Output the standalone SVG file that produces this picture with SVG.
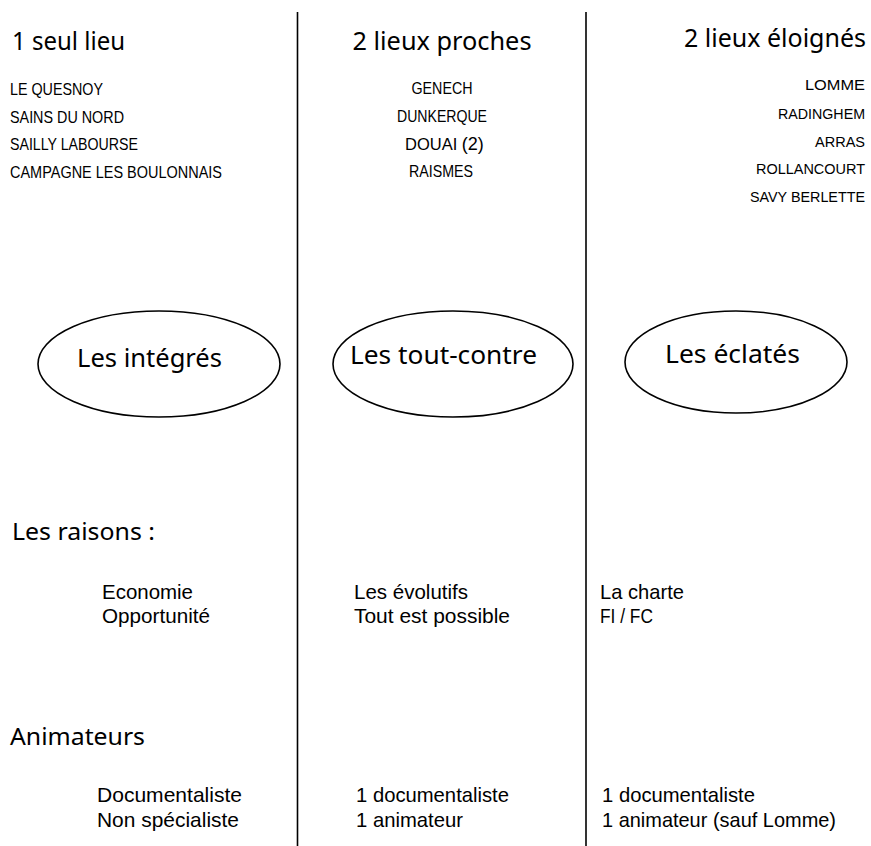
<svg xmlns="http://www.w3.org/2000/svg" width="871" height="846" viewBox="0 0 871 846">
<style>
.bg{fill:#fff}
.hand{font-family:"Noto Sans","DejaVu Sans",sans-serif;fill:#000}
.h1{font-size:25px}
.h2{font-size:23px}
.place{font-family:"Liberation Sans",Arial,sans-serif;font-size:16.5px;fill:#000}
.placer{font-family:"Liberation Sans",Arial,sans-serif;font-size:14.5px;fill:#000}
.body{font-family:"Liberation Sans",Arial,sans-serif;font-size:21px;fill:#000}
.div{stroke:#000;stroke-width:1.6;fill:none}
.oval{stroke:#000;stroke-width:1.6;fill:none}
</style>
<rect class="bg" x="0" y="0" width="871" height="846"/>
<g id="connectors">
<line class="div" x1="297.5" y1="12" x2="297.5" y2="846"/>
<line class="div" x1="586" y1="12" x2="586" y2="846"/>
</g>
<g id="col-integres">
<text class="hand h1" x="12" y="50" textLength="113" lengthAdjust="spacingAndGlyphs">1 seul lieu</text>
<text class="place" x="10" y="95" textLength="93" lengthAdjust="spacingAndGlyphs">LE QUESNOY</text>
<text class="place" x="10" y="123" textLength="114" lengthAdjust="spacingAndGlyphs">SAINS DU NORD</text>
<text class="place" x="10" y="150" textLength="128" lengthAdjust="spacingAndGlyphs">SAILLY LABOURSE</text>
<text class="place" x="10" y="178" textLength="212" lengthAdjust="spacingAndGlyphs">CAMPAGNE LES BOULONNAIS</text>
</g>
<g id="col-toutcontre">
<text class="hand h1" x="442" y="50" text-anchor="middle" textLength="179" lengthAdjust="spacingAndGlyphs">2 lieux proches</text>
<text class="place" x="442" y="94" text-anchor="middle" textLength="61" lengthAdjust="spacingAndGlyphs">GENECH</text>
<text class="place" x="442" y="122" text-anchor="middle" textLength="90" lengthAdjust="spacingAndGlyphs">DUNKERQUE</text>
<text class="place" x="405" y="150" font-size="15">DOUAI <tspan font-size="18">(2)</tspan></text>
<text class="place" x="441" y="177" text-anchor="middle" textLength="64" lengthAdjust="spacingAndGlyphs">RAISMES</text>
</g>
<g id="col-eclates">
<text class="hand h1" x="866" y="47" text-anchor="end" textLength="182" lengthAdjust="spacingAndGlyphs">2 lieux éloignés</text>
<text class="placer" x="865" y="90" text-anchor="end" textLength="60" lengthAdjust="spacingAndGlyphs">LOMME</text>
<text class="placer" x="865" y="119" text-anchor="end" textLength="87" lengthAdjust="spacingAndGlyphs">RADINGHEM</text>
<text class="placer" x="865" y="147" text-anchor="end" textLength="50" lengthAdjust="spacingAndGlyphs">ARRAS</text>
<text class="placer" x="865" y="174" text-anchor="end" textLength="109" lengthAdjust="spacingAndGlyphs">ROLLANCOURT</text>
<text class="placer" x="865" y="202" text-anchor="end" textLength="115" lengthAdjust="spacingAndGlyphs">SAVY BERLETTE</text>
</g>
<g id="node-integres">
<ellipse class="oval" cx="159" cy="364" rx="121" ry="53"/>
<text class="hand h1" x="77" y="367" textLength="145" lengthAdjust="spacingAndGlyphs">Les intégrés</text>
</g>
<g id="node-toutcontre">
<ellipse class="oval" cx="453" cy="364" rx="120" ry="53"/>
<text class="hand h1" x="350" y="364" textLength="187" lengthAdjust="spacingAndGlyphs">Les tout-contre</text>
</g>
<g id="node-eclates">
<ellipse class="oval" cx="736" cy="362" rx="111" ry="51"/>
<text class="hand h1" x="665" y="363" textLength="135" lengthAdjust="spacingAndGlyphs">Les éclatés</text>
</g>
<g id="raisons">
<text class="hand h2" x="12" y="540" textLength="143" lengthAdjust="spacingAndGlyphs">Les raisons :</text>
<text class="body" x="102" y="599" textLength="91" lengthAdjust="spacingAndGlyphs">Economie</text>
<text class="body" x="102" y="623" textLength="108" lengthAdjust="spacingAndGlyphs">Opportunité</text>
<text class="body" x="354" y="599" textLength="114" lengthAdjust="spacingAndGlyphs">Les évolutifs</text>
<text class="body" x="354" y="623" textLength="156" lengthAdjust="spacingAndGlyphs">Tout est possible</text>
<text class="body" x="600" y="599" textLength="84" lengthAdjust="spacingAndGlyphs">La charte</text>
<text class="body" x="600" y="623" textLength="53" lengthAdjust="spacingAndGlyphs">FI / FC</text>
</g>
<g id="animateurs">
<text class="hand h2" x="10" y="745" textLength="135" lengthAdjust="spacingAndGlyphs">Animateurs</text>
<text class="body" x="97" y="802" textLength="145" lengthAdjust="spacingAndGlyphs">Documentaliste</text>
<text class="body" x="97" y="827" textLength="142" lengthAdjust="spacingAndGlyphs">Non spécialiste</text>
<text class="body" x="356" y="802" textLength="153" lengthAdjust="spacingAndGlyphs">1 documentaliste</text>
<text class="body" x="356" y="827" textLength="107" lengthAdjust="spacingAndGlyphs">1 animateur</text>
<text class="body" x="602" y="802" textLength="153" lengthAdjust="spacingAndGlyphs">1 documentaliste</text>
<text class="body" x="602" y="827" textLength="234" lengthAdjust="spacingAndGlyphs">1 animateur (sauf Lomme)</text>
</g>
</svg>
